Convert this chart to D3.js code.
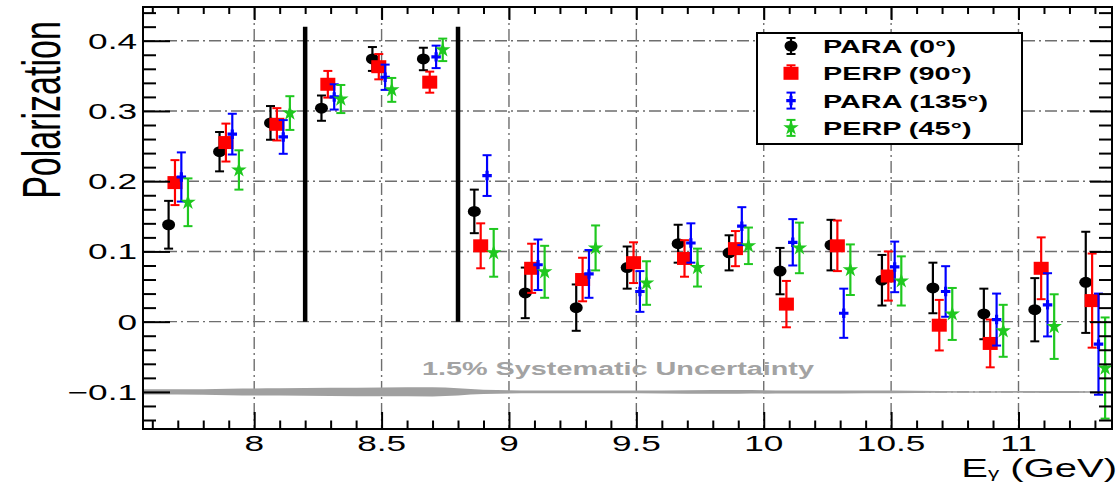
<!DOCTYPE html>
<html>
<head>
<meta charset="utf-8">
<script src="https://cdn.jsdelivr.net/npm/d3@7"></script>
<style>
  body { margin: 0; background: #fff; }
  svg { display: block; font-family: "Liberation Sans", Arial, sans-serif; }
</style>
</head>
<body>
<div id="chart"></div>
<script>
// beam energy bins (GeV) and small shifts so the four sets don't overlap
var ebin = [7.7, 7.9, 8.1, 8.3, 8.5, 8.7, 8.9, 9.1, 9.3, 9.5, 9.7, 9.9, 10.1, 10.3, 10.5, 10.7, 10.9, 11.1, 11.3];
var shift = [-0.036, -0.011, 0.014, 0.040];

var names = ["PARA (0°)", "PERP (90°)", "PARA (135°)", "PERP (45°)"];

var para0 = [0.138, 0.242, 0.283, 0.304, 0.374, 0.374, 0.157, 0.041, 0.020, 0.077, 0.111, 0.098, 0.072, 0.109, 0.059, 0.048, 0.011, 0.017, 0.056];
var para0Err = [0.034, 0.028, 0.024, 0.018, 0.017, 0.016, 0.031, 0.036, 0.033, 0.030, 0.027, 0.025, 0.033, 0.036, 0.036, 0.036, 0.036, 0.045, 0.072];

var perp90 = [0.198, 0.255, 0.281, 0.338, 0.363, 0.341, 0.108, 0.076, 0.060, 0.084, 0.090, 0.104, 0.025, 0.108, 0.065, -0.005, -0.031, 0.076, 0.030];
var perp90Err = [0.032, 0.027, 0.023, 0.019, 0.018, 0.015, 0.032, 0.035, 0.031, 0.029, 0.026, 0.025, 0.033, 0.036, 0.035, 0.036, 0.034, 0.044, 0.067];

var para135 = [0.206, 0.267, 0.263, 0.320, 0.348, 0.377, 0.208, 0.081, 0.068, 0.043, 0.112, 0.136, 0.113, 0.012, 0.078, 0.043, 0.003, 0.024, -0.032];
var para135Err = [0.035, 0.029, 0.024, 0.018, 0.018, 0.016, 0.029, 0.036, 0.034, 0.029, 0.028, 0.027, 0.033, 0.035, 0.036, 0.036, 0.037, 0.045, 0.072];

var perp45 = [0.170, 0.216, 0.297, 0.317, 0.330, 0.387, 0.098, 0.071, 0.105, 0.055, 0.077, 0.108, 0.105, 0.074, 0.058, 0.011, -0.013, -0.007, -0.066];
var perp45Err = [0.034, 0.028, 0.024, 0.020, 0.017, 0.016, 0.034, 0.037, 0.032, 0.031, 0.027, 0.026, 0.036, 0.036, 0.035, 0.037, 0.037, 0.046, 0.072];

// coherent peak edges and systematic band
var peakEdges = [8.2, 8.8];
var peakTop = 0.42;
var sysLevel = -0.1;
var sysFrac = 0.015;

var xMajor = [8, 8.5, 9, 9.5, 10, 10.5, 11];
var xLabels = ["8", "8.5", "9", "9.5", "10", "10.5", "11"];
var yMajor = [-0.1, 0, 0.1, 0.2, 0.3, 0.4];
var yLabels = ["\u22120.1", "0", "0.1", "0.2", "0.3", "0.4"];

var W = 1120, H = 483;
var padL = 143, padR = 1112, padT = 7, padB = 429;
var sx = 1.6; // picture is stretched sideways

var x = d3.scaleLinear().domain([7.5635, 11.367]).range([padL, padR]);
var y = d3.scaleLinear().domain([-0.1528, 0.448]).range([padB, padT]);

var svg = d3.select("#chart").append("svg")
  .attr("width", W)
  .attr("height", H);

svg.append("rect").attr("width", W).attr("height", H).attr("fill", "#fff");

function stext(g, px, py, str, anchor, size, weight, fill) {
  return g.append("text")
    .attr("transform", "translate(" + px + "," + py + ") scale(" + sx + ",1)")
    .attr("text-anchor", anchor)
    .attr("font-size", size)
    .attr("font-weight", weight || "normal")
    .attr("fill", fill || "#000")
    .text(str);
}

// grid
var grid = svg.append("g")
  .attr("stroke", "#6e6e6e")
  .attr("stroke-width", 1.4)
  .attr("stroke-dasharray", "12,4,2,4");
grid.selectAll(".gx").data(xMajor).enter().append("line")
  .attr("x1", function(d) { return x(d); })
  .attr("x2", function(d) { return x(d); })
  .attr("y1", padT).attr("y2", padB);
grid.selectAll(".gy").data(yMajor).enter().append("line")
  .attr("x1", padL).attr("x2", padR)
  .attr("y1", function(d) { return y(d); })
  .attr("y2", function(d) { return y(d); });

// systematic band: 1.5% of the mean polarization around -0.1
var sets = [para0, perp90, para135, perp45];
var errs = [para0Err, perp90Err, para135Err, perp45Err];
var meanP = ebin.map(function(e, i) {
  return Math.abs(d3.mean(sets, function(s) { return s[i]; }));
});
var bandPts = [{e: x.domain()[0], p: meanP[0]}].concat(ebin.map(function(e, i) {
  return {e: e, p: meanP[i]};
}));
svg.append("path")
  .datum(bandPts)
  .attr("fill", "#a0a0a0")
  .attr("d", d3.area()
    .curve(d3.curveMonotoneX)
    .x(function(d) { return x(d.e); })
    .y0(function(d) { return y(sysLevel - sysFrac * d.p) + 0.7; })
    .y1(function(d) { return y(sysLevel + sysFrac * d.p) - 0.7; }));

stext(svg, 422, 375, "1.5% Systematic Uncertainty", "start", 18, "bold", "#a3a3a3");

// coherent peak lines
svg.selectAll(".peak").data(peakEdges).enter().append("line")
  .attr("x1", function(d) { return x(d); })
  .attr("x2", function(d) { return x(d); })
  .attr("y1", y(peakTop)).attr("y2", y(0))
  .attr("stroke", "#000")
  .attr("stroke-width", 4.5);

// points
var colors = ["#000000", "#ff0000", "#0000ff", "#1fc81f"];

function marker(g, k) {
  var c = colors[k];
  if (k == 0) {
    g.append("ellipse").attr("rx", 6.5).attr("ry", 5.5).attr("fill", c);
  } else if (k == 1) {
    g.append("rect").attr("x", -7.5).attr("y", -6.5).attr("width", 15).attr("height", 13).attr("fill", c);
  } else if (k == 2) {
    g.append("path").attr("d", d3.symbol().type(d3.symbolCross).size(50)).attr("fill", c);
  } else {
    g.append("path").attr("d", d3.symbol().type(d3.symbolStar).size(75)).attr("fill", c);
  }
}

function errorBar(g, c, y1, y2) {
  g.append("line").attr("x1", 0).attr("x2", 0).attr("y1", y1).attr("y2", y2)
    .attr("stroke", c).attr("stroke-width", 2.2);
  [y1, y2].forEach(function(yy) {
    g.append("line").attr("x1", -4.5).attr("x2", 4.5).attr("y1", yy).attr("y2", yy)
      .attr("stroke", c).attr("stroke-width", 2);
  });
}

sets.forEach(function(s, k) {
  var pts = svg.append("g").selectAll("g").data(ebin).enter().append("g")
    .attr("transform", function(e, i) {
      return "translate(" + x(e + shift[k]) + "," + y(s[i]) + ")";
    });
  pts.each(function(e, i) {
    var g = d3.select(this);
    var yc = y(s[i]);
    errorBar(g, colors[k], y(s[i] + errs[k][i]) - yc, y(s[i] - errs[k][i]) - yc);
    marker(g, k);
  });
});

// axes ticks (all inward)
var xMinor = d3.range(76, 114).map(function(v) { return v / 10; })
  .filter(function(v) { return xMajor.indexOf(v) < 0; });
var yMinor = d3.range(-14, 45, 2).map(function(v) { return v / 100; })
  .filter(function(v) { return yMajor.indexOf(v) < 0; });

function ticks(axis, tv, size, tx) {
  var g = svg.append("g").attr("transform", tx).call(axis.tickValues(tv).tickSize(size).tickFormat(""));
  g.select(".domain").remove();
  g.selectAll("line").attr("stroke", "#000").attr("stroke-width", 2);
}
ticks(d3.axisBottom(x), xMajor, -17, "translate(0," + padB + ")");
ticks(d3.axisBottom(x), xMinor, -8.5, "translate(0," + padB + ")");
ticks(d3.axisTop(x), xMajor, -13, "translate(0," + padT + ")");
ticks(d3.axisTop(x), xMinor, -7, "translate(0," + padT + ")");
ticks(d3.axisLeft(y), yMajor, -27, "translate(" + padL + ",0)");
ticks(d3.axisLeft(y), yMinor, -13, "translate(" + padL + ",0)");
ticks(d3.axisRight(y), yMajor, -22, "translate(" + padR + ",0)");
ticks(d3.axisRight(y), yMinor, -13, "translate(" + padR + ",0)");

svg.append("rect")
  .attr("x", padL).attr("y", padT)
  .attr("width", padR - padL).attr("height", padB - padT)
  .attr("fill", "none").attr("stroke", "#000").attr("stroke-width", 2);

// tick labels
xMajor.forEach(function(v, i) {
  stext(svg, x(v), 451, xLabels[i], "middle", 22);
});
yMajor.forEach(function(v, i) {
  stext(svg, padL - 6, y(v) + 8, yLabels[i], "end", 22);
});

// axis titles
svg.append("text")
  .attr("transform", "translate(60,110) scale(" + sx + ",1) rotate(-90)")
  .attr("text-anchor", "middle")
  .attr("font-size", 34)
  .text("Polarization");

var xt = stext(svg, 1117, 477, "E", "end", 25);
xt.append("tspan").attr("font-size", 14).attr("dy", 1).text("\u03b3");
xt.append("tspan").attr("dy", -1).text(" (GeV)");

// legend
var lg = svg.append("g");
lg.append("rect")
  .attr("x", 757).attr("y", 33).attr("width", 265).attr("height", 111)
  .attr("fill", "#fff").attr("stroke", "#000").attr("stroke-width", 2);
names.forEach(function(n, k) {
  var ry = 46 + k * 27.3;
  var g = lg.append("g").attr("transform", "translate(791," + ry + ")");
  if (k == 1) {
    errorBar(g, colors[k], -8, 0);
  } else {
    errorBar(g, colors[k], -8, 8);
  }
  marker(g, k);
  stext(lg, 823, ry + 7, n, "start", 18, "bold");
});
</script>
</body>
</html>
